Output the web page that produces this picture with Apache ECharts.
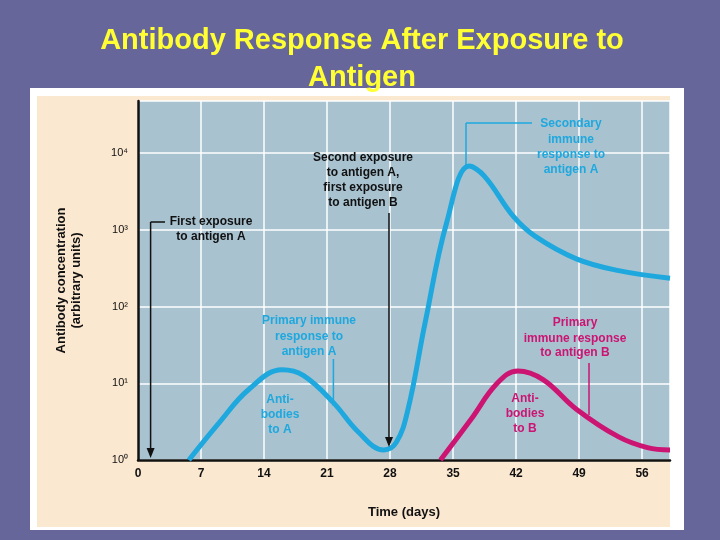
<!DOCTYPE html>
<html><head><meta charset="utf-8">
<script src="https://cdn.jsdelivr.net/npm/echarts@6/dist/echarts.min.js"></script>
<style>html,body{margin:0;padding:0;background:#67669a}#c{width:720px;height:540px}</style>
</head><body><div id="c"></div>
<script>
const daysA = [5.65, 9.05, 12.3, 16.0, 18.4, 21.7, 24.5, 27.3, 28.7, 30.0, 31.9, 34.3, 36.8, 38.5, 41.7, 44.1, 48.7, 53.4, 59.1];
const valuesA = [1, 3.1, 8.3, 15, 12.6, 5.6, 2.3, 1.35, 1.7, 4.6, 62, 1260, 6800, 5000, 1500, 830, 420, 295, 235];
const daysB = [33.6, 37.0, 39.9, 42.2, 45.0, 48.7, 53.4, 56.6, 59.1];
const valuesB = [1, 3.4, 10, 14.5, 11.2, 4.6, 2.0, 1.45, 1.35];
const xTicks = [0, 7, 14, 21, 28, 35, 42, 49, 56];
const yTickLabels = {1: '10⁰', 10: '10¹', 100: '10²', 1000: '10³', 10000: '10⁴'};

const F = "'Liberation Sans Narrow','Liberation Sans',Arial,sans-serif";
const BLUE = '#1ea8de', PINK = '#cc1472';
function txt(x, y, s, color, size) {
  return {type: 'text', x: x, y: y, z: 100, style: {text: s, fill: color, font: 'bold ' + (size || 12) + 'px ' + F, align: 'center', verticalAlign: 'middle', lineHeight: 15}};
}
function ln(x1, y1, x2, y2, c, w) {
  return {type: 'line', z: 100, shape: {x1, y1, x2, y2}, style: {stroke: c, lineWidth: w || 1.5}};
}
function arrowDown(x, y, c) {
  return {type: 'polygon', z: 100, shape: {points: [[x - 4, y - 10], [x + 4, y - 10], [x, y]]}, style: {fill: c}};
}
const chart = echarts.init(document.getElementById('c'));
chart.setOption({
  backgroundColor: '#67669a',
  animation: false,
  title: {text: 'Antibody Response After Exposure to\nAntigen', left: 357, top: 17, textAlign: 'center',
    textStyle: {color: '#ffff33', fontSize: 29, fontWeight: 'bold', fontFamily: 'Liberation Sans, Arial', lineHeight: 37}},
  grid: {left: 138, right: 50, top: 101, bottom: 80, show: true, backgroundColor: '#a8c2d0', borderWidth: 0},
  xAxis: {type: 'value', min: 0, max: 59.1, interval: 7,
    axisLine: {lineStyle: {color: '#111', width: 2.5}}, axisTick: {show: false},
    axisLabel: {showMaxLabel: false, color: '#111', fontWeight: 'bold', fontFamily: F, fontSize: 12, margin: 8,
      formatter: v => xTicks.includes(v) ? String(v) : ''},
    splitLine: {show: true, lineStyle: {color: '#ffffff', width: 1.5}},
    name: 'Time (days)', nameLocation: 'middle', nameGap: 46,
    nameTextStyle: {color: '#111', fontWeight: 'bold', fontFamily: F, fontSize: 13}},
  yAxis: {type: 'log', logBase: 10, min: 1, max: 48000,
    axisLine: {show: true, lineStyle: {color: '#111', width: 2.5}}, axisTick: {show: false},
    axisLabel: {showMaxLabel: false, color: '#111', fontFamily: F, fontSize: 11, margin: 10,
      formatter: v => yTickLabels[Math.round(v)] || ''},
    splitLine: {show: true, lineStyle: {color: '#ffffff', width: 1.5}},
    name: 'Antibody concentration\n(arbitrary units)', nameLocation: 'middle', nameGap: 54, nameRotate: 90,
    nameTextStyle: {color: '#111', fontWeight: 'bold', fontFamily: F, fontSize: 13, lineHeight: 15}},
  series: [
    {type: 'line', data: daysA.map((d, i) => [d, valuesA[i]]), smooth: 0.4, showSymbol: false, z: 5,
      lineStyle: {color: BLUE, width: 5}},
    {type: 'line', data: daysB.map((d, i) => [d, valuesB[i]]), smooth: 0.4, showSymbol: false, z: 4,
      lineStyle: {color: PINK, width: 5}}
  ],
  graphic: [
    {type: 'rect', z: -10, shape: {x: 30, y: 88, width: 654, height: 442}, style: {fill: '#ffffff'}},
    {type: 'rect', z: -9, shape: {x: 37, y: 96, width: 633, height: 431}, style: {fill: '#fbe8d0'}},
    txt(211, 222, 'First exposure', '#111'), txt(211, 237, 'to antigen A', '#111'),
    ln(150.6, 222, 165, 222, '#111'), ln(150.6, 222, 150.6, 452, '#111'), arrowDown(150.6, 458, '#111'),
    txt(363, 158, 'Second exposure', '#111'), txt(363, 173, 'to antigen A,', '#111'),
    txt(363, 188, 'first exposure', '#111'), txt(363, 203, 'to antigen B', '#111'),
    ln(389, 213, 389, 440, '#111'), arrowDown(389, 447, '#111'),
    txt(571, 124, 'Secondary', BLUE), txt(571, 140, 'immune', BLUE), txt(571, 155, 'response to', BLUE), txt(571, 170, 'antigen A', BLUE),
    ln(532, 123, 466, 123, BLUE), ln(466, 123, 466, 165, BLUE),
    txt(309, 321, 'Primary immune', BLUE), txt(309, 337, 'response to', BLUE), txt(309, 352, 'antigen A', BLUE),
    ln(333.4, 359, 333.4, 406, BLUE),
    txt(280, 400, 'Anti-', BLUE), txt(280, 415, 'bodies', BLUE), txt(280, 430, 'to A', BLUE),
    txt(575, 323, 'Primary', PINK), txt(575, 339, 'immune response', PINK), txt(575, 353, 'to antigen B', PINK),
    ln(589, 363, 589, 415, PINK),
    txt(525, 399, 'Anti-', PINK), txt(525, 414, 'bodies', PINK), txt(525, 429, 'to B', PINK)
  ]
});
</script></body></html>
